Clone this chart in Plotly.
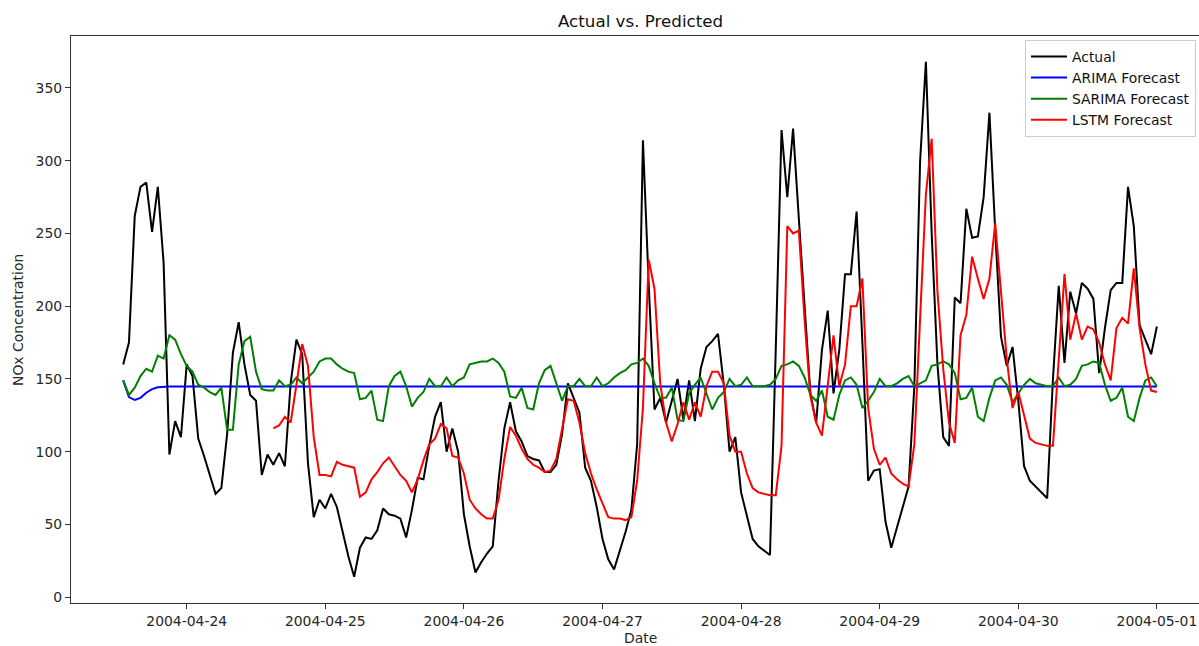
import pandas as pd
import plotly.graph_objects as go

# ---------------- data (hourly, 2004-04-23 13:00 .. 2004-05-01 00:00) ----------------
start_time = "2004-04-23 13:00"
n_hours = 180

actual = [160, 175, 262, 282, 285, 251, 282, 230, 98, 121,
          110, 160, 152, 109, 97, 84, 71, 75, 112, 168,
          189, 160, 139, 135, 84, 98, 91, 99, 90, 147,
          177, 167, 92, 55, 67, 61, 71, 62, 45, 28,
          14, 34, 41, 40, 46, 61, 57, 56, 54, 41,
          60, 82, 81, 104, 124, 134, 100, 116, 100, 57,
          35, 17, 24, 30, 35, 80, 116, 134, 114, 107,
          97, 95, 94, 86, 86, 91, 112, 147, 137, 127,
          89, 80, 62, 40, 26, 19, 32, 45, 60, 105,
          314, 215, 129, 137, 120, 135, 150, 122, 149, 121,
          157, 172, 176, 181, 146, 100, 110, 72, 55, 40,
          35, 32, 29, 170, 321, 275, 322, 260, 200, 140,
          120, 170, 197, 140, 170, 222, 222, 265, 175, 80,
          87, 88, 52, 34, 48, 62, 76, 145, 300, 368,
          250, 160, 110, 104, 206, 202, 267, 247, 248, 275,
          333, 252, 179, 159, 172, 135, 90, 80, 76, 72,
          68, 150, 214, 161, 210, 195, 216, 212, 205, 154,
          185, 211, 216, 216, 282, 255, 187, 177, 167, 186]

arima_head = [149, 137.5, 135.5, 137, 140.5, 143, 144.3, 144.7]
arima_level = 144.8

sarima = [149, 139, 144, 152, 157, 155, 166, 164, 180, 177,
          167, 159, 155, 146, 144, 141, 139, 144, 115, 115,
          160, 176, 179, 155, 143, 142, 142, 149, 145, 146,
          151, 147, 151, 155, 162, 164, 164, 160, 157, 155,
          154, 136, 137, 142, 122, 121, 145, 152, 155, 145,
          131, 137, 141, 150, 145, 145, 151, 145, 149, 151,
          160, 161, 162, 162, 164, 161, 155, 138, 137, 144,
          130, 129, 147, 156, 159, 147, 135, 145, 145, 150,
          145, 145, 151, 145, 147, 151, 154, 156, 160, 161,
          164, 159, 147, 137, 137, 144, 122, 121, 140, 146,
          151, 140, 129, 137, 141, 150, 145, 146, 151, 145,
          145, 145, 146, 150, 159, 160, 162, 159, 151, 139,
          135, 142, 124, 122, 139, 149, 151, 146, 130, 135,
          141, 150, 145, 145, 147, 150, 152, 145, 147, 149,
          159, 160, 162, 160, 154, 136, 137, 144, 124, 121,
          137, 149, 151, 146, 134, 140, 146, 150, 147, 146,
          145, 145, 151, 145, 146, 150, 159, 160, 162, 161,
          146, 135, 137, 144, 124, 121, 137, 149, 151, 145]

lstm_start_index = 26
lstm = [116, 118, 124, 120, 146, 174, 159, 110, 84, 84,
        83, 93, 91, 90, 89, 69, 72, 81, 86, 92,
        96, 90, 84, 80, 72, 81, 94, 105, 109, 119,
        116, 97, 96, 85, 67, 61, 57, 54, 54, 67,
        95, 117, 111, 102, 95, 91, 89, 86, 87, 95,
        115, 136, 135, 120, 99, 85, 74, 64, 55, 54,
        54, 53, 55, 80, 130, 232, 212, 147, 120, 107,
        119, 134, 122, 134, 124, 145, 155, 155, 147, 111,
        100, 100, 85, 75, 72, 71, 70, 70, 104, 255,
        250, 252, 190, 138, 120, 111, 147, 180, 145, 160,
        200, 200, 219, 130, 102, 91, 96, 85, 81, 78,
        76, 105, 192, 277, 315, 210, 157, 120, 106, 180,
        194, 234, 219, 205, 219, 257, 210, 164, 130, 141,
        125, 109, 106, 105, 104, 104, 160, 222, 177, 195,
        177, 186, 184, 175, 160, 149, 185, 192, 188, 226,
        185, 160, 142, 141]

series_names = ["Actual", "ARIMA Forecast", "SARIMA Forecast", "LSTM Forecast"]
series_colors = ["black", "#0000ff", "#008000", "#ff0000"]
y_ticks = [0, 50, 100, 150, 200, 250, 300, 350]

# ---------------- derived ----------------
dates = pd.date_range(start_time, periods=n_hours, freq="h")
arima = arima_head + [arima_level] * (n_hours - len(arima_head))
lstm_dates = dates[lstm_start_index:lstm_start_index + len(lstm)]

W, H = 1199, 646
ml, mr, mt, mb = 71, 0, 36, 43
plot_w = W - ml - mr
plot_h = H - mt - mb

# x scale: 2004-04-24 00:00 at px 186.7, 5.775 px per hour
px_per_hour = 5.775
ref_t = pd.Timestamp("2004-04-24 00:00")
ref_px = 186.7
x_left = ref_t - pd.Timedelta(hours=(ref_px - ml) / px_per_hour)
x_right = ref_t + pd.Timedelta(hours=(W - mr - ref_px) / px_per_hour)

font_family = "DejaVu Sans, Liberation Sans, sans-serif"
fs = 13.9

fig = go.Figure()
series = [(dates, actual), (dates, arima), (dates, sarima), (lstm_dates, lstm)]
for i, ((xs, ys), name, col) in enumerate(zip(series, series_names, series_colors)):
    fig.add_trace(go.Scatter(
        x=xs, y=ys, mode="lines", name=name,
        line=dict(color=col, width=2.0),
        legendgroup=f"g{i}",
    ))

def px_to_paper_x(px):
    return (px - ml) / plot_w

def px_to_paper_y(py):
    return (H - mb - py) / plot_h

fig.update_layout(
    width=W, height=H,
    margin=dict(l=ml, r=mr, t=mt, b=mb, pad=0),
    paper_bgcolor="white", plot_bgcolor="white",
    font=dict(family=font_family, size=fs, color="#262626"),
    showlegend=True,
    legend=dict(
        x=px_to_paper_x(1025), y=px_to_paper_y(40),
        xanchor="left", yanchor="top",
        bgcolor="rgba(255,255,255,0.85)",
        bordercolor="#cccccc", borderwidth=1,
        font=dict(family=font_family, size=fs, color="#111111"),
        tracegroupgap=5,
        itemwidth=36,
        traceorder="normal",
    ),
    xaxis=dict(
        type="date",
        range=[x_left, x_right],
        tickmode="linear",
        tick0="2004-04-24",
        dtick=86400000,
        tickformat="%Y-%m-%d",
        ticks="outside", ticklen=5, tickwidth=1, tickcolor="#333333",
        showline=True, linecolor="#333333", linewidth=1.2, mirror=True,
        showgrid=False, zeroline=False,
        tickfont=dict(size=fs, color="#262626"),
    ),
    yaxis=dict(
        range=[-4.0, 385.7],
        tickmode="array", tickvals=y_ticks,
        ticks="outside", ticklen=5, tickwidth=1, tickcolor="#333333",
        showline=True, linecolor="#333333", linewidth=1.2, mirror=False,
        showgrid=False, zeroline=False,
        tickfont=dict(size=fs, color="#262626"),
    ),
    annotations=[
        dict(text="Actual vs. Predicted", xref="paper", yref="paper",
             x=px_to_paper_x(640), y=px_to_paper_y(21), xanchor="center", yanchor="middle",
             showarrow=False, font=dict(size=16.7, color="#111111")),
        dict(text="Date", xref="paper", yref="paper",
             x=px_to_paper_x(640), y=px_to_paper_y(638), xanchor="center", yanchor="middle",
             showarrow=False, font=dict(size=fs, color="#262626")),
        dict(text="NOx Concentration", xref="paper", yref="paper",
             x=px_to_paper_x(18), y=px_to_paper_y(320), xanchor="center", yanchor="middle",
             textangle=-90, showarrow=False, font=dict(size=fs, color="#262626")),
    ],
)

fig.write_html(
    "out.html",
    config={"displayModeBar": False},
    post_script="document.body.style.margin='0';document.body.style.overflow='hidden';",
)
